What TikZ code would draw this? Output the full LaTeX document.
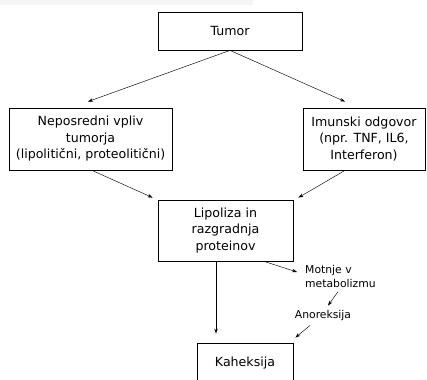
\documentclass[tikz,border=0pt]{standalone}
\usepackage{fontspec}
\setmainfont{DejaVu Sans}
\usetikzlibrary{arrows.meta}
\begin{document}
\begin{tikzpicture}[x=1pt,y=1pt,
  box/.style={draw,line width=0.8pt,rectangle,inner sep=0pt,align=center,font=\fontsize{12.6}{16.5}\selectfont},
  lbl/.style={inner sep=0pt,align=left,font=\fontsize{10.8}{14}\selectfont},
  arr/.style={line width=0.45pt,-{Stealth[length=5pt,width=3.5pt]}}]
\useasboundingbox (0,0) rectangle (427,379);
\fill[gray!8] (0,374) rectangle (253,379);
\begin{scope}
\clip (0,0) rectangle (427,379);
\node[box,minimum width=144pt,minimum height=38pt] (tumor) at (230,348) {Tumor};
\node[box,minimum width=163pt,minimum height=62pt] (nep) at (90.5,240) {Neposredni vpliv\\tumorja\\(lipolitični, proteolitični)};
\node[box,minimum width=122pt,minimum height=62pt] (imu) at (364,240) {Imunski odgovor\\(npr. TNF, IL6,\\Interferon)};
\node[box,minimum width=135pt,minimum height=61pt] (lip) at (225.5,148.5) {Lipoliza in\\razgradnja\\proteinov};
\node[box,minimum width=96pt,minimum height=40pt] (kah) at (245,16) {Kaheksija};
\node[lbl,anchor=north west] (mot) at (305,114) {Motnje v\\metabolizmu};
\node[lbl] (ano) at (323,63) {Anoreksija};
\end{scope}
\draw[arr] (tumor.south) -- ([shift={(-2.5,6)}]nep.north);
\draw[arr] (tumor.south) -- ([shift={(-19,6)}]imu.north);
\draw[arr] ([xshift=1.5pt]nep.south) -- ([shift={(-5,2)}]lip.north west);
\draw[arr] ([xshift=-19pt]imu.south) -- ([shift={(5,2)}]lip.north east);
\draw[arr] ([xshift=-9.5pt]lip.south) -- ([shift={(-29,9)}]kah.north);
\draw[arr] ([xshift=38.5pt]lip.south) -- ([shift={(-8,-7)}]mot.north west);
\draw[arr] ([shift={(-2.5,-4)}]mot.south) -- ([shift={(5,5)}]ano.north);
\draw[arr] ([shift={(-13,-4)}]ano.south) -- ([shift={(2,5)}]kah.north east);
\end{tikzpicture}
\end{document}
